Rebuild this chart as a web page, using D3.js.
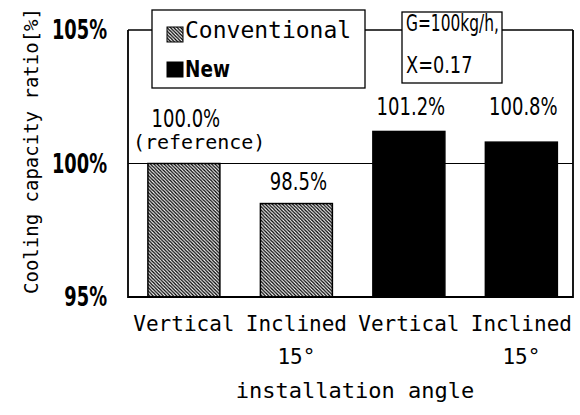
<!DOCTYPE html>
<html>
<head>
<meta charset="utf-8">
<script src="https://cdn.jsdelivr.net/npm/d3@7"></script>
<style>
  body { margin: 0; background: #fff; }
  .mono { font-family: 'DejaVu Sans Mono', 'Liberation Mono', monospace; }
  .narrow { font-family: 'DejaVu Sans', 'Liberation Sans', sans-serif; }
</style>
</head>
<body>
<div id="chart"></div>
<script>
// data
var categories = ["Vertical|", "Inclined|15°", "Vertical", "Inclined|15°"];
var keys = ["c1", "c2", "n1", "n2"];
var series = ["Conventional", "Conventional", "New", "New"];
var values = [100.0, 98.5, 101.2, 100.8];
var valueLabels = ["100.0%", "98.5%", "101.2%", "100.8%"];
var yTicks = [95, 100, 105];
var legendNames = ["Conventional", "New"];
var conditionText = ["G=100kg/h,", "X=0.17"];

var width = 580, height = 415;

// squeeze a wide sans text so it looks like the narrow print font
function condense(sel, f) {
  sel.each(function(d, i) {
    var k = typeof f == "function" ? f(d, i) : f;
    var w = this.getComputedTextLength();
    d3.select(this).attr("textLength", w * k).attr("lengthAdjust", "spacingAndGlyphs");
  });
}

var svg = d3.select("#chart").append("svg")
    .attr("width", width)
    .attr("height", height);

// hatch for conventional bars
var defs = svg.append("defs");
var pat = defs.append("pattern")
    .attr("id", "hatch")
    .attr("patternUnits", "userSpaceOnUse")
    .attr("width", 3.4)
    .attr("height", 3.4);
pat.append("rect").attr("width", 3.4).attr("height", 3.4).attr("fill", "#fff");
pat.append("path")
    .attr("d", "M-1,-1L4.4,4.4M-1,2.4L1,4.4M2.4,-1L4.4,1")
    .attr("stroke", "#000")
    .attr("stroke-width", 1.3);

var x = d3.scaleBand()
    .domain(keys)
    .range([128, 573])
    .paddingInner(0.36)
    .paddingOuter(0.158)
    .align(0.56);

var y = d3.scaleLinear()
    .domain([95, 105])
    .range([297, 30]);

var fill = function(s) { return s == "New" ? "#000" : "url(#hatch)"; };

// gridline at 100%
svg.append("line")
    .attr("x1", x.range()[0]).attr("x2", x.range()[1])
    .attr("y1", y(100)).attr("y2", y(100))
    .attr("stroke", "#000").attr("stroke-width", 1);

// bars
svg.append("g").selectAll("rect")
    .data(values)
  .enter().append("rect")
    .attr("x", function(d, i) { return x(keys[i]); })
    .attr("y", function(d) { return y(d); })
    .attr("width", x.bandwidth())
    .attr("height", function(d) { return y(95) - y(d); })
    .attr("fill", function(d, i) { return fill(series[i]); })
    .attr("stroke", "#000")
    .attr("stroke-width", 1.5);

// frame
var x0 = x.range()[0], x1 = x.range()[1];
svg.append("path")
    .attr("d", "M" + x0 + "," + y(105) + "V" + y(95) + "H" + x1 + "V" + y(105))
    .attr("fill", "none").attr("stroke", "#000").attr("stroke-width", 1.8);
svg.append("line")
    .attr("x1", x0).attr("x2", x1)
    .attr("y1", y(105)).attr("y2", y(105))
    .attr("stroke", "#000").attr("stroke-width", 1.3);

// y axis labels
var yAxis = d3.axisLeft(y).tickValues(yTicks).tickSize(0).tickPadding(21)
    .tickFormat(function(d) { return d + "%"; });
var ya = svg.append("g").attr("transform", "translate(" + x0 + ",0)").call(yAxis);
ya.select(".domain").remove();
ya.selectAll("text")
    .attr("class", "narrow")
    .attr("font-size", 27)
    .attr("font-weight", "bold")
    .attr("fill", "#000")
    .call(condense, 0.66);

// x axis labels (two lines)
var xl = svg.append("g").selectAll("text")
    .data(categories)
  .enter().append("text")
    .attr("class", "mono")
    .attr("text-anchor", "middle")
    .attr("font-size", 21)
    .attr("transform", function(d, i) { return "translate(" + (x(keys[i]) + x.bandwidth() / 2) + ",0)"; });
xl.each(function(d) {
  var parts = d.split("|");
  var t = d3.select(this);
  t.append("tspan").attr("x", 0).attr("y", 331).text(parts[0]);
  if (parts[1]) t.append("tspan").attr("x", 0).attr("y", 364).text(parts[1]);
});

// x title
svg.append("text")
    .attr("class", "mono")
    .attr("x", 355).attr("y", 398)
    .attr("text-anchor", "middle")
    .attr("font-size", 22)
    .text("installation angle");

// y title
svg.append("text")
    .attr("class", "mono")
    .attr("transform", "translate(38,151) rotate(-90)")
    .attr("text-anchor", "middle")
    .attr("font-size", 19)
    .text("Cooling capacity ratio[%]");

// value labels
var labelY = [y(100) - 37, y(98.5) - 14, y(101.2) - 16, y(101.2) - 16];
svg.append("g").selectAll("text")
    .data(valueLabels)
  .enter().append("text")
    .attr("class", "narrow")
    .attr("text-anchor", "middle")
    .attr("font-size", 25)
    .attr("x", function(d, i) { return x(keys[i]) + x.bandwidth() / 2 + 2; })
    .attr("y", function(d, i) { return labelY[i]; })
    .text(function(d) { return d; })
    .call(condense, 0.72);
svg.append("text")
    .attr("class", "mono")
    .attr("x", x(keys[0]) - 15)
    .attr("y", y(100) - 15)
    .attr("font-size", 20)
    .text("(reference)");

// legend box
var lg = svg.append("g");
lg.append("rect")
    .attr("x", 152).attr("y", 10).attr("width", 213).attr("height", 78)
    .attr("fill", "#fff").attr("stroke", "#000").attr("stroke-width", 1.3);
lg.selectAll(".sw")
    .data(legendNames)
  .enter().append("rect")
    .attr("x", 167)
    .attr("y", function(d, i) { return 27 + i * 35; })
    .attr("width", 16).attr("height", 15)
    .attr("fill", function(d) { return fill(d); })
    .attr("stroke", "#000").attr("stroke-width", 1);
lg.append("text")
    .attr("class", "mono")
    .attr("x", 185).attr("y", 38)
    .attr("font-size", 23)
    .text(legendNames[0]);
lg.append("text")
    .attr("class", "narrow")
    .attr("x", 185).attr("y", 77)
    .attr("font-size", 23)
    .attr("font-weight", "bold")
    .text(legendNames[1])
    .call(condense, 0.8);

// condition box
var cb = svg.append("g");
cb.append("rect")
    .attr("x", 402).attr("y", 12).attr("width", 100).attr("height", 71)
    .attr("fill", "#fff").attr("stroke", "#000").attr("stroke-width", 1.3);
cb.selectAll("text")
    .data(conditionText)
  .enter().append("text")
    .attr("class", "narrow")
    .attr("x", 406)
    .attr("y", function(d, i) { return 31 + i * 42; })
    .attr("font-size", 23)
    .text(function(d) { return d; })
    .call(condense, function(d, i) { return i ? 0.77 : 0.67; });
</script>
</body>
</html>
